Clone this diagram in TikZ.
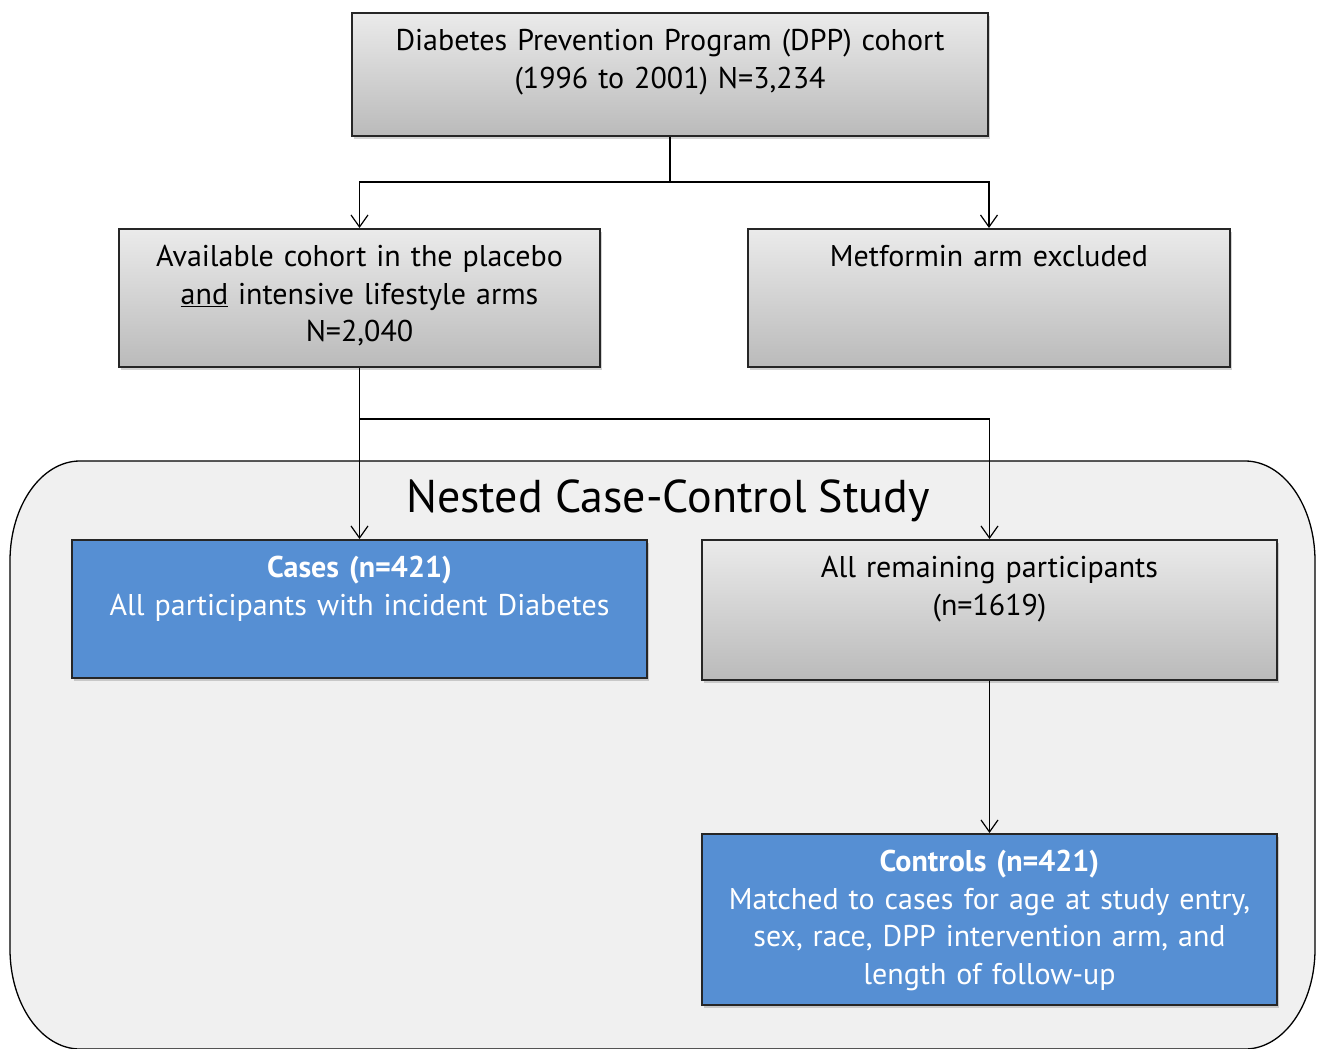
\documentclass[tikz,border=0pt]{standalone}
\usepackage{fontspec}
\setmainfont{PT Sans}
\usepackage{tikz}
\usetikzlibrary{arrows.meta,shadows}
\definecolor{studybg}{HTML}{F0F0F0}
\definecolor{caseblue}{HTML}{568FD3}
\begin{document}
\begin{tikzpicture}[x=1pt,y=-1pt]
	\tikzstyle{box}=[rectangle,draw=black!85,line width=1.6pt,anchor=north,inner sep=0pt,
		text height=38pt,align=center,font=\fontsize{30}{37.5}\selectfont,
		drop shadow={opacity=0.35,shadow xshift=1.5pt,shadow yshift=-3pt}]
	\tikzstyle{graybox}=[box,top color=black!8,bottom color=black!27]
	\tikzstyle{bluebox}=[box,fill=caseblue,text=white]
	\tikzstyle{link}=[line width=1.3pt,-{Straight Barb[length=12pt,width=17pt,line width=1.2pt]}]
	\useasboundingbox (0,0) rectangle (1320,1049);
	% study frame
	\draw[fill=studybg,line width=1.3pt] (10,949) -- (10,561) arc[start angle=180,end angle=270,x radius=70,y radius=100]
		-- (1245,461) arc[start angle=270,end angle=360,x radius=70,y radius=100]
		-- (1315,949) arc[start angle=0,end angle=90,x radius=70,y radius=100]
		-- (80,1049) arc[start angle=90,end angle=180,x radius=70,y radius=100] -- cycle;
	\node[font=\fontsize{46}{54}\selectfont](title) at (668,501) {Nested Case-Control Study};
	% boxes
	\node[graybox,minimum width=636pt,text width=610pt,text depth=85pt](dpp) at (670,12)
		{Diabetes Prevention Program (DPP) cohort\\(1996 to 2001) N=3,234};
	\node[graybox,minimum width=481pt,text width=465pt,text depth=100pt](avail) at (359.5,228)
		{Available cohort in the placebo\\\underline{and} intensive lifestyle arms\\N=2,040};
	\node[graybox,minimum width=482pt,text width=465pt,text depth=100pt](metf) at (989,228)
		{Metformin arm excluded};
	\node[bluebox,minimum width=575pt,text width=560pt,text depth=100pt](cases) at (359.5,539)
		{\textbf{Cases (n=421)}\\All participants with incident Diabetes};
	\node[graybox,minimum width=575pt,text width=560pt,text depth=102pt](remain) at (989.5,539)
		{All remaining participants\\(n=1619)};
	\node[bluebox,minimum width=575pt,text width=560pt,text depth=133pt](controls) at (989.5,833)
		{\textbf{Controls (n=421)}\\Matched to cases for age at study entry,\\sex, race, DPP intervention arm, and\\length of follow-up};
	% connectors
	\coordinate (split1) at (670,182);
	\coordinate (split2) at (359.5,419);
	\draw[line width=1.3pt] (dpp.south) -- (split1);
	\draw[link] (split1) -| (avail.north);
	\draw[link] (split1) -| (metf.north);
	\draw[link] (avail.south) -- (cases.north);
	\draw[link] (split2) -| (remain.north);
	\draw[link] (remain.south) -- (controls.north);
\end{tikzpicture}
\end{document}
